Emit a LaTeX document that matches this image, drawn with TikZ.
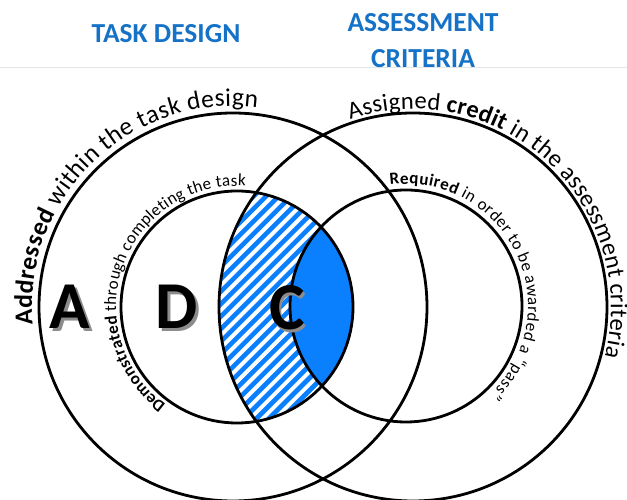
\documentclass[tikz,border=0pt]{standalone}
\usepackage{fontspec}
\setmainfont{Carlito}
\usetikzlibrary{decorations.text}
\definecolor{fillblue}{RGB}{10,128,255}
\definecolor{titleblue}{RGB}{22,114,198}
\tikzset{
  ring/.style={draw=black, line width=2.8pt},
  stripe/.style={draw=fillblue, line width=4.6pt},
  bigletter/.style={font=\fontsize{67}{67}\selectfont\bfseries, text=black, inner sep=0pt},
  lettershadow/.style={font=\fontsize{67}{67}\selectfont\bfseries, text=black!45, inner sep=0pt},
  title/.style={font=\fontsize{27.5}{36}\selectfont\bfseries, text=titleblue, align=center, inner sep=0pt},
}
\newcommand{\bigtxt}{\fontsize{25.5}{30}\selectfont}
\newcommand{\rtxt}{\fontsize{24.5}{30}\selectfont}
\newcommand{\smalltxt}{\fontsize{17}{20}\selectfont}
\begin{document}
\begin{tikzpicture}[x=1pt,y=1pt]
\useasboundingbox (0,0) rectangle (627,500);
\coordinate (LB) at (233,193);
\coordinate (RB) at (413,193);
\coordinate (LS) at (237,193);
\coordinate (RS) at (406,194);
% faint rule under titles
\draw[black!10, line width=0.8pt] (0,433) -- (627,433);
% hatched region
\begin{scope}
  \clip (LS) circle[radius=116pt];
  \clip (RB) circle[radius=194pt];
  \foreach \i in {-40,...,40}
    \draw[stripe] (\i*12.5+90,-10) -- ++(400,400);
\end{scope}
% solid lens
\begin{scope}
  \clip (LS) circle[radius=116pt];
  \fill[fillblue] (RS) circle[radius=116pt];
\end{scope}
% circles
\draw[ring] (LB) circle[radius=194pt];
\draw[ring] (RB) circle[radius=194pt];
\draw[ring] (LS) circle[radius=116pt];
\draw[ring] (RS) circle[radius=116pt];
% curved texts
\path[decorate, decoration={text along path, text align=fit to path,
  text={|\bigtxt\bfseries|Addressed |\bigtxt\mdseries|within the task design}}]
  (LB) ++(185:201pt) arc[start angle=185, end angle=83, radius=201pt];
\path[decorate, decoration={text along path, text align=fit to path,
  text={|\rtxt\mdseries|Assigned |\rtxt\bfseries|credit |\rtxt\mdseries|in the assessment criteria}}]
  (RB) ++(108.5:198pt) arc[start angle=108.5, end angle=-14.5, radius=198pt];
\path[decorate, decoration={text along path, text align=fit to path,
  text={|\smalltxt\bfseries|Demonstrated |\smalltxt\mdseries|through completing the task}}]
  (LS) ++(234:121pt) arc[start angle=234, end angle=86, radius=121pt];
\path[decorate, decoration={text along path, text align=fit to path,
  text={|\smalltxt\bfseries|Required |\smalltxt\mdseries|in order to be awarded a “pass”}}]
  (RS) ++(97.5:122pt) arc[start angle=97.5, end angle=-46.5, radius=122pt];
% big letters
\node[lettershadow] (As) at (72.5,190.5) {A};
\node[bigletter] (A) at (70,193) {A};
\node[lettershadow] (Ds) at (179.5,190.5) {D};
\node[bigletter] (D) at (177,193) {D};
\node[lettershadow] (Cs) at (289.5,189.5) {C};
\node[bigletter] (C) at (287,192) {C};
% titles
\node[title] (td) at (166,466) {TASK DESIGN};
\node[title] (ac) at (423,459) {ASSESSMENT\\CRITERIA};
\end{tikzpicture}
\end{document}
